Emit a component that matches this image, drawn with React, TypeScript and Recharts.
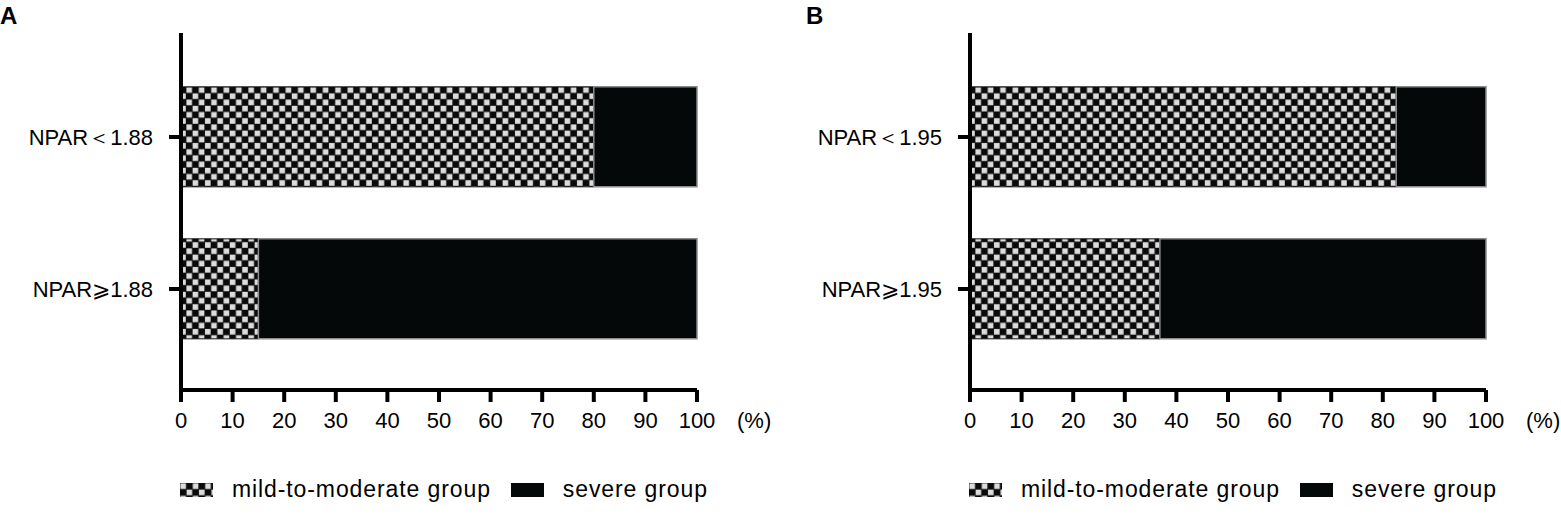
import { BarChart, Bar, XAxis, YAxis, Legend } from 'recharts';

const categoriesA = ['NPAR＜1.88', 'NPAR⩾1.88'];
const mildA = [80, 15];
const severeA = [20, 85];

const categoriesB = ['NPAR＜1.95', 'NPAR⩾1.95'];
const mildB = [82.6, 36.8];
const severeB = [17.4, 63.2];

const xTicks = [0, 10, 20, 30, 40, 50, 60, 70, 80, 90, 100];
const seriesNames = ['mild-to-moderate group', 'severe group'];

const FONT = '"Liberation Sans", Arial, Helvetica, sans-serif';
const BLACK = '#050808';

function CheckerDefs({ id }: { id: string }) {
  return (
    <defs>
      <pattern id={id} patternUnits="userSpaceOnUse" width={12.4} height={12.4}>
        <rect x={0} y={0} width={12.4} height={12.4} fill="#0a0a0a" />
        <rect x={0.4} y={0.4} width={5.6} height={5.6} fill="#dcdcdc" />
        <rect x={6.6} y={6.6} width={5.6} height={5.6} fill="#dcdcdc" />
      </pattern>
    </defs>
  );
}

function LegendRow({ patternId }: { patternId: string }) {
  return (
    <div style={{ display: 'flex', alignItems: 'center', fontFamily: FONT, fontSize: 23, letterSpacing: 0.9, color: '#000', whiteSpace: 'nowrap' }}>
      <svg width={33} height={14} style={{ display: 'block' }}>
        <rect x={0} y={0} width={33} height={14} fill={`url(#${patternId})`} />
      </svg>
      <span style={{ marginLeft: 19 }}>{seriesNames[0]}</span>
      <svg width={33} height={14} style={{ display: 'block', marginLeft: 20 }}>
        <rect x={0} y={0} width={33} height={14} fill={BLACK} />
      </svg>
      <span style={{ marginLeft: 19 }}>{seriesNames[1]}</span>
    </div>
  );
}

function Panel({ cats, mild, severe, id, width }: { cats: string[]; mild: number[]; severe: number[]; id: string; width: number }) {
  const data = cats.map((name, i) => ({ name, mild: mild[i], severe: severe[i] }));
  return (
    <BarChart
      width={width}
      height={515}
      data={data}
      layout="vertical"
      margin={{ top: 33, right: width - 697, bottom: 65, left: 0 }}
      barCategoryGap="17%"
    >
      <CheckerDefs id={id} />
      <Bar dataKey="mild" stackId="s" fill={`url(#${id})`} stroke="#111" strokeWidth={1} isAnimationActive={false} />
      <Bar dataKey="severe" stackId="s" fill={BLACK} stroke="#8a8a8a" strokeWidth={1.5} isAnimationActive={false} />
      <XAxis
        type="number"
        domain={[0, 100]}
        ticks={xTicks}
        interval={0}
        height={60}
        tickSize={12}
        tickMargin={10}
        axisLine={{ stroke: '#000', strokeWidth: 4 }}
        tickLine={{ stroke: '#000', strokeWidth: 4 }}
        tick={{ fill: '#000', fontSize: 22, fontFamily: FONT }}
        label={{ value: '(%)', position: 'right', offset: 40, fill: '#000', fontSize: 22, fontFamily: FONT }}
      />
      <YAxis
        type="category"
        dataKey="name"
        width={181}
        padding={{ top: 28, bottom: 25 }}
        tickSize={12}
        tickMargin={16}
        axisLine={{ stroke: '#000', strokeWidth: 4 }}
        tickLine={{ stroke: '#000', strokeWidth: 4 }}
        tick={{ fill: '#000', fontSize: 22, fontFamily: FONT }}
      />
      <Legend
        verticalAlign="middle"
        align="center"
        wrapperStyle={{ left: 180, top: 476, width: 'auto' }}
        content={() => <LegendRow patternId={id} />}
      />
    </BarChart>
  );
}

export default function App() {
  return (
    <div style={{ position: 'absolute', left: 0, top: 0, width: 1561, height: 515, background: '#fff', overflow: 'hidden' }}>
      <div style={{ position: 'absolute', left: 0, top: 0 }}>
        <Panel cats={categoriesA} mild={mildA} severe={severeA} id="checkA" width={789} />
      </div>
      <div style={{ position: 'absolute', left: 789, top: 0 }}>
        <Panel cats={categoriesB} mild={mildB} severe={severeB} id="checkB" width={772} />
      </div>
      <div style={{ position: 'absolute', left: 0, top: 2, fontFamily: FONT, fontWeight: 'bold', fontSize: 24, lineHeight: '28px' }}>A</div>
      <div style={{ position: 'absolute', left: 806, top: 2, fontFamily: FONT, fontWeight: 'bold', fontSize: 24, lineHeight: '28px' }}>B</div>
    </div>
  );
}
